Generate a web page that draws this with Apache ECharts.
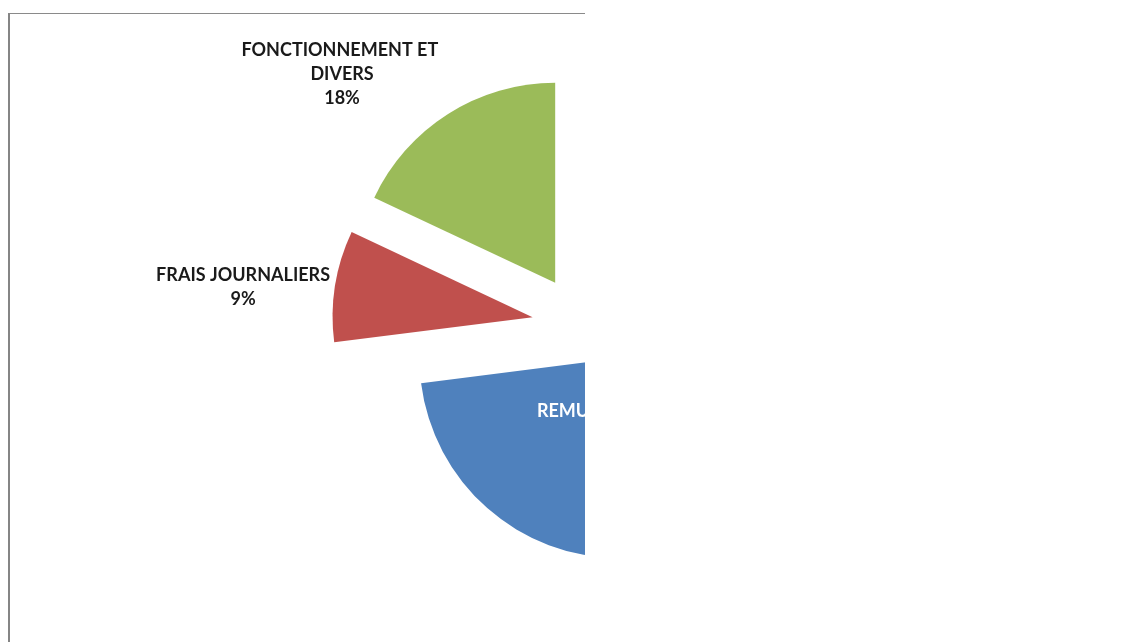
<!DOCTYPE html>
<html>
<head>
<meta charset="utf-8">
<script src="https://cdn.jsdelivr.net/npm/echarts@6/dist/echarts.min.js"></script>
<style>
  html, body { margin: 0; padding: 0; background: #ffffff; width: 1143px; height: 642px; overflow: hidden; }
  #frame { position: absolute; left: 8px; top: 13px; width: 577px; height: 640px; overflow: hidden;
           border-left: 2px solid #858585; border-top: 1px solid #8a8a8a; box-sizing: border-box; background: #fff; }
  #chart { position: absolute; left: -10px; top: -14px; width: 1143px; height: 642px; }
</style>
</head>
<body>
<div id="frame"><div id="chart"></div></div>
<script>
// Data
const categories = ['REMUNERATIONS', 'FRAIS JOURNALIERS', 'FONCTIONNEMENT ET DIVERS'];
const values = [73, 9, 18];
const colors = ['#4F81BD', '#C0504D', '#9BBB59'];

// label placement tweaks (style only)
const labelShift = [[-83, -3], [-87, 1], [-101, -40]];

const chart = echarts.init(document.getElementById('chart'), null, { renderer: 'canvas' });
const data = categories.map((name, i) => {
  const item = { name: name, value: values[i], selected: true, itemStyle: { color: colors[i] } };
  if (i === 0) {
    item.label = { position: 'inside', color: '#ffffff' };
  } else if (i === 2) {
    item.label = { width: 205, overflow: 'break' };
  }
  return item;
});

chart.setOption({
  animation: false,
  backgroundColor: '#ffffff',
  series: [{
    type: 'pie',
    center: [582, 325],
    radius: 200,
    startAngle: 90,
    clockwise: true,
    selectedMode: 'multiple',
    selectedOffset: 50,
    avoidLabelOverlap: false,
    emphasis: { disabled: true },
    label: {
      show: true,
      position: 'outside',
      formatter: '{b}\n{d}%',
      fontFamily: 'Lato',
      fontWeight: 'bold',
      fontSize: 18,
      lineHeight: 24,
      color: '#1a1a1a',
      align: 'center'
    },
    labelLine: { show: false, length: 0, length2: 0 },
    labelLayout: function (params) {
      const s = labelShift[params.dataIndex];
      return { align: 'center', verticalAlign: 'middle', dx: s[0], dy: s[1] };
    },
    data: data
  }]
});
</script>
</body>
</html>
